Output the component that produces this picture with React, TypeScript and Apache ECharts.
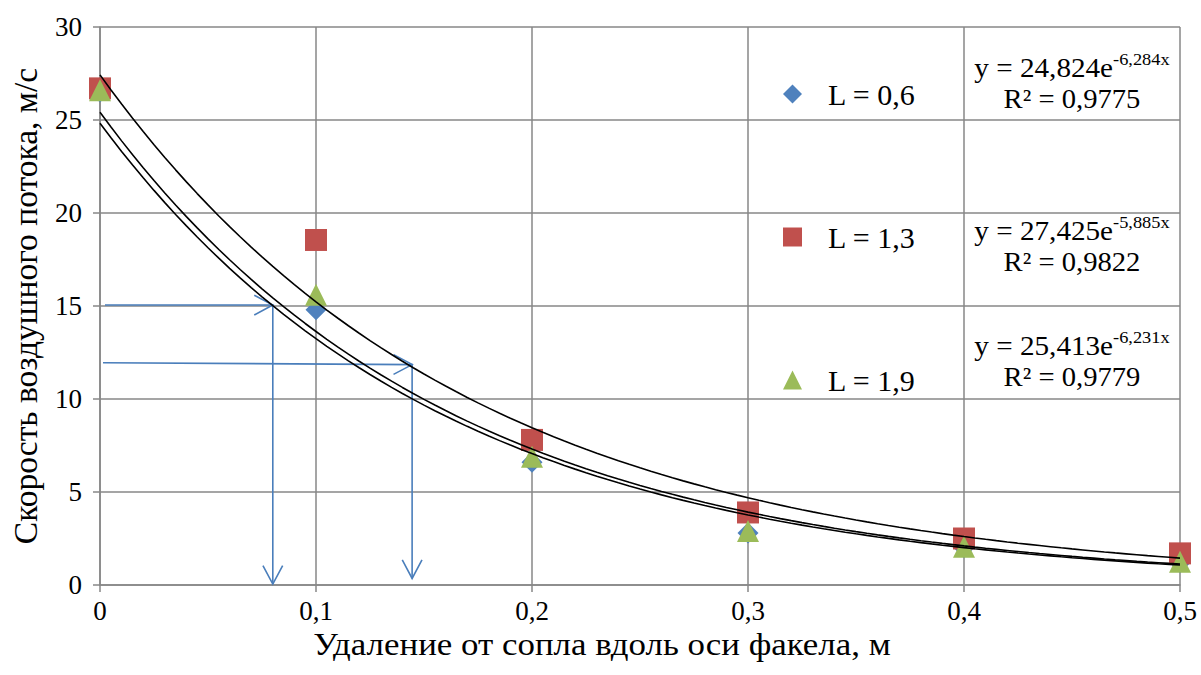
import React, { useEffect, useRef } from "react";
import * as echarts from "echarts";

const FONT = "Times New Roman";

const xValues = [0, 0.1, 0.2, 0.3, 0.4, 0.5];
const seriesNames = ["L = 0,6", "L = 1,3", "L = 1,9"];
const valuesL06 = [26.5, 14.8, 6.6, 2.8, 2.0, 1.2];
const valuesL13 = [26.7, 18.55, 7.8, 3.9, 2.5, 1.7];
const valuesL19 = [26.6, 15.6, 6.9, 2.9, 2.05, 1.25];
const seriesValues = [valuesL06, valuesL13, valuesL19];
const seriesColors = ["#4F81BD", "#C0504D", "#9BBB59"];
const seriesSymbols = ["diamond", "rect", "triangle"];

// exponential trend lines y = a * e^(b x), as printed on the chart
const trendA = [24.824, 27.425, 25.413];
const trendB = [-6.284, -5.885, -6.231];
const trendAText = ["24,824", "27,425", "25,413"];
const trendBText = ["-6,284x", "-5,885x", "-6,231x"];
const r2Text = ["0,9775", "0,9822", "0,9779"];
const trendSampleX = Array.from({ length: 101 }, (_, i) => i * 0.005);

// blue helper arrows (data coordinates)
const arrowPaths = [
  [[0.0023, 15.05], [0.08, 15.05], [0.08, 0.05]],
  [[0.0014, 11.95], [0.1445, 11.85], [0.1445, 0.35]],
];

const xTicks = { min: 0, max: 0.5, interval: 0.1 };
const yTicks = { min: 0, max: 30, interval: 5 };

function fmtX(v: number) {
  if (Math.abs(v) < 1e-9) return "0";
  return v.toFixed(1).replace(".", ",");
}

export default function App() {
  const ref = useRef<HTMLDivElement>(null);
  useEffect(() => {
    document.body.style.margin = "0";
    if (!ref.current) return;
    const chart = echarts.init(ref.current, undefined, { renderer: "svg" });

    const gridColor = "#878787";

    const scatterSeries = seriesNames.map((name, i) => ({
      name,
      type: "scatter",
      symbol: seriesSymbols[i],
      symbolSize: i === 0 ? 21 : 22,
      itemStyle: { color: seriesColors[i], opacity: 1 },
      data: xValues.map((x, j) => [x, seriesValues[i][j]]),
      z: 3,
    }));

    const trendSeries = trendA.map((a, i) => ({
      name: "trend" + i,
      type: "line",
      showSymbol: false,
      symbol: "none",
      smooth: false,
      lineStyle: { color: "#000", width: 1.6 },
      data: trendSampleX.map((x) => [x, a * Math.exp(trendB[i] * x)]),
      z: 5,
      silent: true,
    }));

    const arrowSeries = {
      type: "custom",
      name: "arrows",
      silent: true,
      z: 4,
      data: arrowPaths.map((_, i) => [i]),
      encode: { x: -1, y: -1 },
      renderItem: (params: any, api: any) => {
        const pts = arrowPaths[params.dataIndex].map((p) => api.coord(p));
        const children: any[] = [
          {
            type: "polyline",
            shape: { points: pts },
            style: { stroke: "#4A7EBB", lineWidth: 1.6, fill: "none" },
          },
        ];
        const head = (from: number[], to: number[]) => {
          const dx = to[0] - from[0];
          const dy = to[1] - from[1];
          const len = Math.sqrt(dx * dx + dy * dy) || 1;
          const ux = dx / len;
          const uy = dy / len;
          const L = 21;
          const ang = (28 * Math.PI) / 180;
          const c = Math.cos(ang);
          const s = Math.sin(ang);
          const a1 = [to[0] - L * (ux * c - uy * s), to[1] - L * (uy * c + ux * s)];
          const a2 = [to[0] - L * (ux * c + uy * s), to[1] - L * (uy * c - ux * s)];
          return {
            type: "polyline",
            shape: { points: [a1, to, a2] },
            style: { stroke: "#4A7EBB", lineWidth: 1.6, fill: "none" },
          };
        };
        for (let k = 1; k < pts.length; k++) children.push(head(pts[k - 1], pts[k]));
        return { type: "group", children };
      },
    };

    const legendTops = [79, 222, 365];
    const legends = seriesNames.map((n, i) => ({
      data: [{ name: n, icon: seriesSymbols[i] }],
      left: 783,
      top: legendTops[i],
      padding: 0,
      itemWidth: 19,
      itemHeight: 19,
      selectedMode: false,
      textStyle: {
        fontFamily: FONT,
        fontSize: 30,
        color: "#000",
        padding: [0, 0, 0, 21],
      },
    }));

    const eqY = [66, 229, 344];
    const graphics: any[] = [];
    trendA.forEach((_, i) => {
      graphics.push({
        type: "text",
        x: 1072,
        y: eqY[i],
        scaleX: 1.08,
        style: {
          text: `{m|y = ${trendAText[i]}e}{s|${trendBText[i]}}`,
          align: "center",
          verticalAlign: "middle",
          rich: {
            m: { fontFamily: FONT, fontSize: 27, lineHeight: 30, verticalAlign: "bottom", fill: "#000" },
            s: { fontFamily: FONT, fontSize: 17, lineHeight: 30, verticalAlign: "top", fill: "#000" },
          },
        },
      });
      graphics.push({
        type: "text",
        x: 1072,
        y: eqY[i] + 33,
        scaleX: 1.06,
        style: {
          text: `R² = ${r2Text[i]}`,
          align: "center",
          verticalAlign: "middle",
          fontFamily: FONT,
          fontSize: 27,
          fill: "#000",
        },
      });
    });
    graphics.push({
      type: "text",
      x: 602,
      y: 644,
      scaleX: 1.09,
      style: {
        text: "Удаление от сопла вдоль оси факела, м",
        align: "center",
        verticalAlign: "middle",
        fontFamily: FONT,
        fontSize: 32,
        fill: "#000",
      },
    });

    chart.setOption({
      animation: false,
      backgroundColor: "#fff",
      grid: { left: 100, right: 21, top: 27, bottom: 90, containLabel: false },
      legend: legends,
      xAxis: {
        type: "value",
        min: xTicks.min,
        max: xTicks.max,
        interval: xTicks.interval,
        axisLine: { show: true, onZero: false, lineStyle: { color: gridColor, width: 1.5 } },
        axisTick: { show: true, length: 7, lineStyle: { color: gridColor, width: 1.5 } },
        splitLine: { show: true, lineStyle: { color: gridColor, width: 1.5 } },
        axisLabel: {
          formatter: (v: number) => fmtX(v),
          fontFamily: FONT,
          fontSize: 27,
          color: "#000",
          margin: 12,
        },
      },
      yAxis: {
        type: "value",
        min: yTicks.min,
        max: yTicks.max,
        interval: yTicks.interval,
        name: "Скорость воздушного потока, м/с",
        nameLocation: "middle",
        nameGap: 58,
        nameTextStyle: { fontFamily: FONT, fontSize: 33.5, color: "#000" },
        axisLine: { show: true, lineStyle: { color: gridColor, width: 1.5 } },
        axisTick: { show: true, length: 7, lineStyle: { color: gridColor, width: 1.5 } },
        splitLine: { show: true, lineStyle: { color: gridColor, width: 1.5 } },
        axisLabel: {
          fontFamily: FONT,
          fontSize: 27,
          color: "#000",
          margin: 18,
        },
      },
      graphic: graphics,
      series: [...scatterSeries, arrowSeries, ...trendSeries],
    });

    return () => chart.dispose();
  }, []);

  return <div ref={ref} style={{ width: 1201, height: 675 }} />;
}
